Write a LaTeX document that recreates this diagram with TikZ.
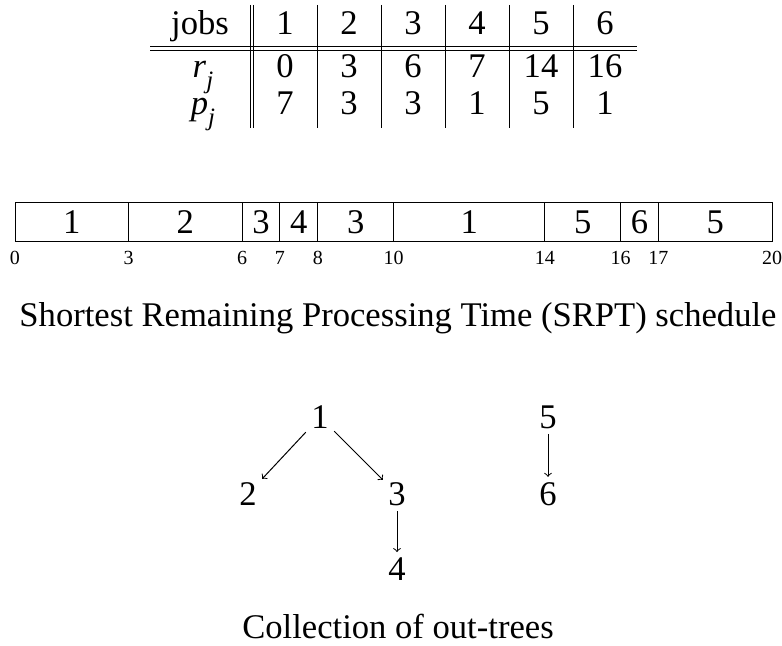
\documentclass[tikz,border=0pt]{standalone}
\usepackage{fontspec}
\setmainfont{Liberation Serif}
\usetikzlibrary{positioning}

\tikzset{
	big/.style={font=\fontsize{17.3}{20}\selectfont,inner sep=2.5pt},
	tick/.style={font=\fontsize{10}{12}\selectfont},
	cell/.style={big,anchor=base,inner sep=0pt},
	slot/.style={draw,line width=0.5pt},
}
\newcommand{\jsub}{\raisebox{-0.3em}{\fontsize{12.5}{14}\selectfont\textit{j}}}

\begin{document}
\begin{tikzpicture}[x=0.5pt,y=-0.5pt,line width=0.5pt]
		\useasboundingbox (0,0) rectangle (782,646);

		% table of jobs
		\node[cell] (j0) at (200,35) {jobs};
		\node[cell] (r0) at (203,78) {\textit{r}\jsub};
		\node[cell] (p0) at (203,115) {\textit{p}\jsub};
		\foreach \i/\r/\p in {1/0/7,2/3/3,3/6/3,4/7/1,5/14/5,6/16/1}{
			\node[cell] (j\i) at (253+64*\i-32,35) {\i};
			\node[cell] (r\i) at (253+64*\i-32,78) {\r};
			\node[cell] (p\i) at (253+64*\i-32,115) {\p};
		}
		\draw (150,47) -- (637,47);
		\draw (150,51) -- (637,51);
		\draw (250,5) -- (250,128);
		\draw (253,5) -- (253,128);
		\foreach \i in {1,...,5}
			\draw (253+64*\i,5) -- (253+64*\i,128);

		% SRPT schedule
		\foreach \a/\b/\n in {0/3/1,3/6/2,6/7/3,7/8/4,8/10/3,10/14/1,14/16/5,16/17/6,17/20/5}{
			\draw[slot] (15+37.85*\a,203) rectangle (15+37.85*\b,242);
			\node[big] (s\a) at (15+37.85*\a/2+37.85*\b/2,222) {\n};
		}
		\foreach \t in {0,3,6,7,8,10,14,16,17,20}
			\node[tick] (t\t) at (15+37.85*\t,258) {\t};
		\node[big] (cap1) at (398,318) {Shortest Remaining Processing Time (SRPT) schedule};

		% out-trees
		\node[big] (n1) at (320,417) {1};
		\node[big] (n2) at (248,494) {2};
		\node[big] (n3) at (397,494) {3};
		\node[big] (n4) at (397,569) {4};
		\node[big] (n5) at (548,417) {5};
		\node[big] (n6) at (548,494) {6};

		\path[->] (n1) edge (n2);
		\path[->] (n1) edge (n3);
		\path[->] (n3) edge (n4);
		\path[->] (n5) edge (n6);

		\node[big] (cap2) at (398,626) {Collection of out-trees};
	\end{tikzpicture}
\end{document}
